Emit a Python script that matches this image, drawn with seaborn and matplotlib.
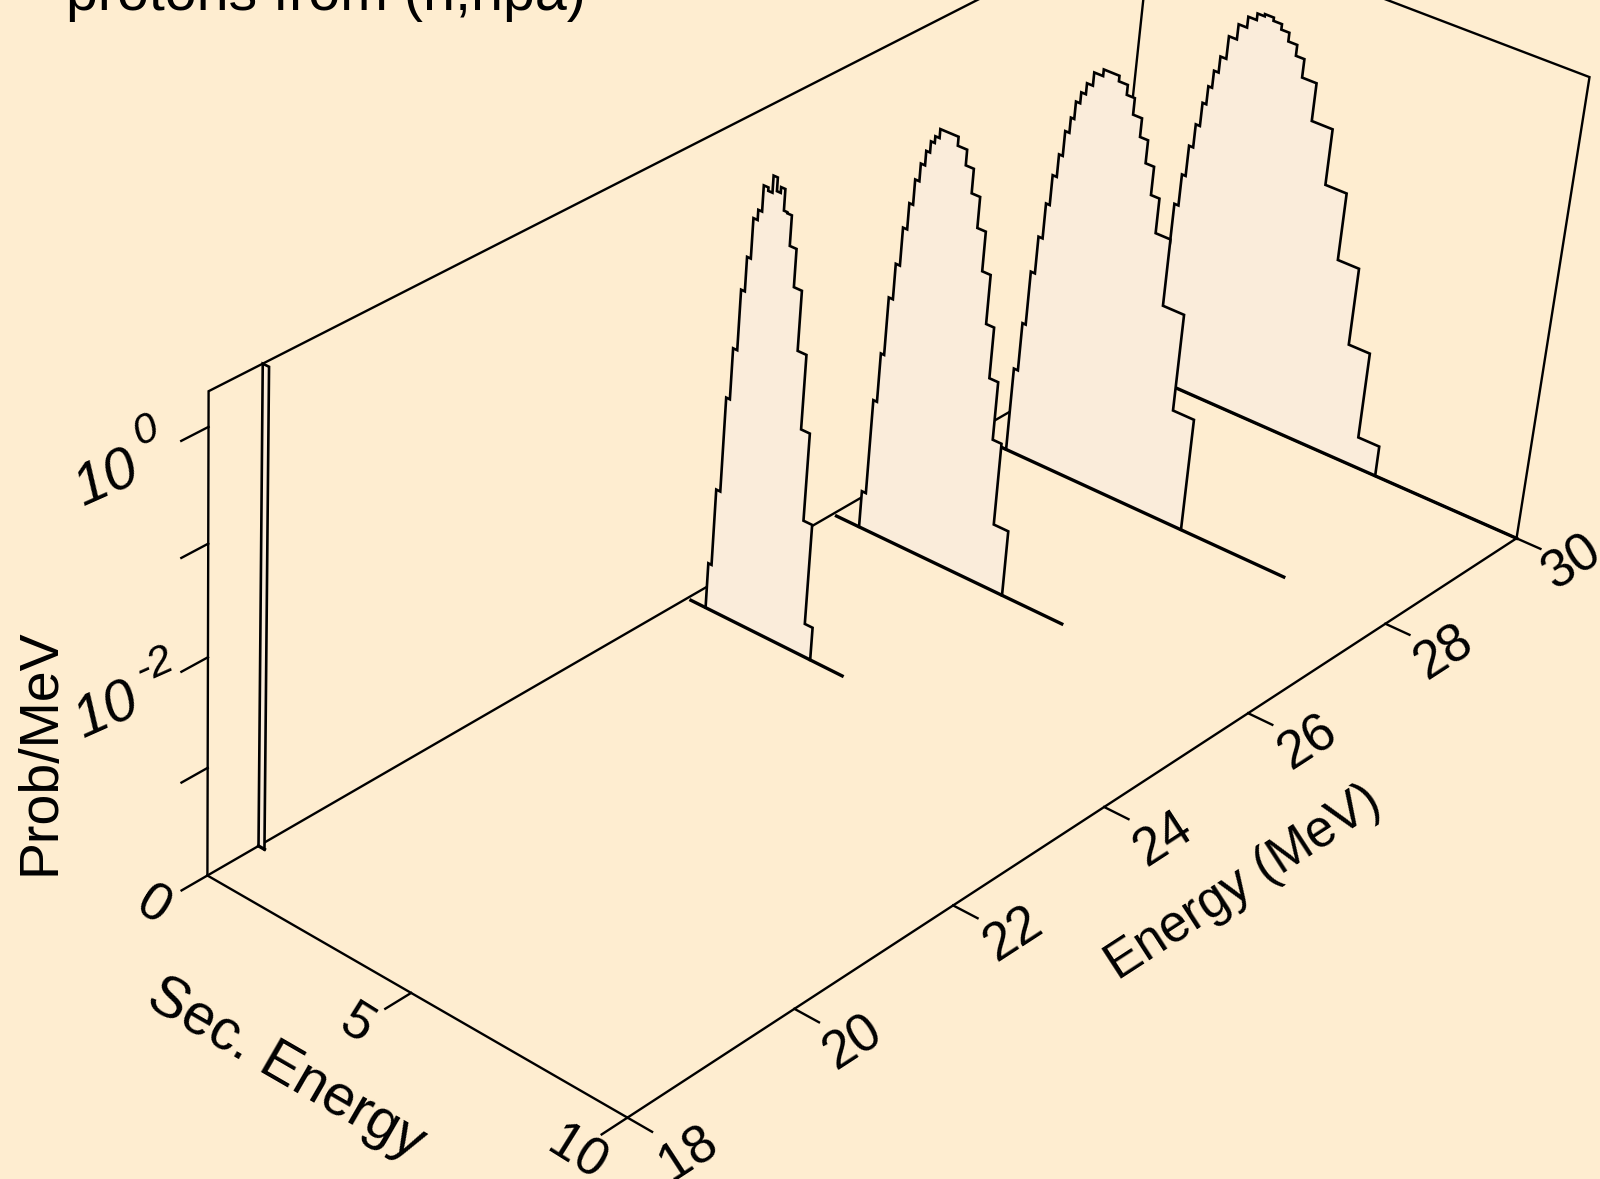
import numpy as np
import pandas as pd
import matplotlib
matplotlib.use("Agg")
import matplotlib.pyplot as plt
import seaborn as sns

# secondary energy bin edges (MeV) and log10(prob/MeV) per bin, one set per incident energy
edges_30 = [1.06, 1.16, 1.26, 1.36, 1.45, 1.55, 1.65, 1.74, 1.83, 1.94, 2.08, 2.27, 2.47, 2.67, 2.84, 3.05, 3.25, 3.44, 3.65, 3.85, 4.19, 4.68, 5.18, 5.68, 6.18, 6.68]
logp_30 = [-3.10, -2.65, -2.27, -1.97, -1.68, -1.46, -1.24, -1.07, -0.91, -0.76, -0.55, -0.41, -0.31, -0.25, -0.23, -0.26, -0.31, -0.39, -0.49, -0.66, -1.01, -1.53, -2.16, -2.89, -3.71]
edges_28 = [0.87, 0.97, 1.05, 1.15, 1.25, 1.34, 1.44, 1.53, 1.63, 1.71, 1.81, 1.92, 2.06, 2.27, 2.64, 2.85, 3.04, 3.25, 3.44, 3.64, 3.84, 4.19, 4.69, 5.19]
logp_28 = [-3.20, -2.74, -2.23, -1.88, -1.55, -1.27, -1.06, -0.83, -0.69, -0.53, -0.43, -0.33, -0.21, -0.15, -0.20, -0.29, -0.44, -0.61, -0.82, -1.08, -1.40, -2.02, -2.93]
edges_26 = [0.67, 0.77, 0.86, 0.94, 1.04, 1.14, 1.24, 1.33, 1.43, 1.53, 1.62, 1.71, 1.81, 2.24, 2.46, 2.65, 2.85, 3.05, 3.25, 3.44, 3.65, 3.86, 4.21]
logp_26 = [-3.65, -2.75, -2.29, -1.75, -1.42, -1.07, -0.83, -0.60, -0.44, -0.31, -0.21, -0.15, -0.07, -0.15, -0.29, -0.51, -0.79, -1.15, -1.60, -2.07, -2.61, -3.38]
edges_24 = [0.47, 0.55, 0.65, 0.74, 0.84, 0.93, 1.02, 1.12, 1.21, 1.32, 1.42, 1.52, 1.61, 1.71, 1.79, 1.90, 2.06, 2.25, 2.46, 2.67, 2.88, 3.07]
logp_24 = [-3.57, -2.85, -1.97, -1.50, -0.95, -0.64, -0.28, -0.19, 0.04, 0.01, 0.16, 0.04, 0.09, -0.10, -0.11, -0.38, -0.72, -1.26, -1.94, -2.75, -3.69]
edges_spike = [0.0, 0.15]
logp_spike = [0.3]

incident = [30, 28, 26, 24, 18.6]
floor_end = [10.0, 7.64, 5.65, 3.85, 0.15]
floor_start = [0.1, 0.1, 0.1, 0.1, 0.0]

sec_ticks = [0, 5, 10]
inc_ticks = [18, 20, 22, 24, 26, 28, 30]
prob_major = [0, -2]
prob_minor = [-1, -3]

SEC_MAX = 10
INC_MIN, INC_MAX = 18, 30
Z_MIN, Z_MAX = -4, 0.3

BG = "#FEEDD0"
FILL = "#FAECDA"

# camera fitted to the box: (sec, incident, log10 prob, 1) -> pixels
CAMERA = np.array([
    [52.7624827, 121.5474354, -3.3978561, -1916.0920395],
    [24.3509953, -53.4799047, -162.0478012, 1518.9897776],
    [-0.0080172, 0.0168503, -0.0181312, 1.0],
])


def project(sec, inc, z):
    sec, inc, z = np.broadcast_arrays(sec, inc, z)
    pts = np.stack([sec, inc, z, np.ones_like(sec)], dtype=float)
    u, v, w = CAMERA @ pts
    return u / w, v / w


def line3d(ax, sec, inc, z, lw=1.7):
    x, y = project(np.atleast_1d(sec), np.atleast_1d(inc), np.atleast_1d(z))
    df = pd.DataFrame({"x": x, "y": y})
    sns.lineplot(data=df, x="x", y="y", sort=False, estimator=None, color="black",
                 linewidth=lw, ax=ax, legend=False, solid_joinstyle="miter",
                 solid_capstyle="projecting")


def spectrum(ax, edges, logp, inc, start, end):
    sec = np.repeat(edges, 2)
    z = np.concatenate([[Z_MIN], np.repeat(logp, 2), [Z_MIN]])
    x, y = project(sec, inc, z)
    ax.fill(x, y, color=FILL, zorder=2, linewidth=0)
    line3d(ax, sec, inc, z, lw=1.9)
    line3d(ax, [start, end], inc, Z_MIN, lw=2.4)


def label(ax, x, y, s, size, rot, style="normal"):
    ax.text(x, y, s, fontsize=size, rotation=rot, style=style, ha="center", va="center",
            rotation_mode="anchor", color="black")


sns.set_theme(style="white")
plt.rcParams["font.family"] = ["Liberation Sans", "DejaVu Sans"]

fig = plt.figure(figsize=(16, 11.79), dpi=100, facecolor=BG)
ax = fig.add_axes([0, 0, 1, 1])
ax.set_xlim(0, 1600)
ax.set_ylim(1179, 0)
ax.axis("off")

# back wall and floor
line3d(ax, [0, 0, 0, SEC_MAX, SEC_MAX], [INC_MIN, INC_MIN, INC_MAX, INC_MAX, INC_MAX],
       [Z_MIN, Z_MAX, Z_MAX, Z_MAX, Z_MIN])
line3d(ax, [0, 0], [INC_MAX, INC_MAX], [Z_MAX, Z_MIN])
line3d(ax, [0, 0], [INC_MIN, INC_MAX], Z_MIN)
line3d(ax, [0, SEC_MAX], INC_MIN, Z_MIN)
line3d(ax, [SEC_MAX, SEC_MAX], [INC_MIN, INC_MAX], Z_MIN)
line3d(ax, [0, SEC_MAX], INC_MAX, Z_MIN)

# ticks
for s in sec_ticks:
    line3d(ax, [s, s], [INC_MIN, INC_MIN - 0.3], Z_MIN)
for e in inc_ticks:
    line3d(ax, [SEC_MAX, SEC_MAX + 0.55], [e, e], Z_MIN)
for z in prob_major + prob_minor:
    line3d(ax, [0, 0], [INC_MIN, INC_MIN - 0.3], z)

# spectra, back to front
spectra = [(edges_30, logp_30), (edges_28, logp_28), (edges_26, logp_26), (edges_24, logp_24),
           (edges_spike, logp_spike)]
for (edges, logp), inc, start, end in zip(spectra, incident, floor_start, floor_end):
    spectrum(ax, edges, logp, inc, start, end)

ax.text(66, 10, "protons from (n,npa)", fontsize=41.3, ha="left", va="baseline", color="black")

# axis text follows the box, so it is rotated by hand
label(ax, 286, 1069, "Sec. Energy", 41, -30)
label(ax, 1243, 883, "Energy (MeV)", 37, 33)
label(ax, 41, 752, "Prob/MeV", 40, 90)

sec_label_pos = [(153, 906), (357, 1024), (577, 1154)]
for s, (x, y) in zip(sec_ticks, sec_label_pos):
    label(ax, x, y, str(s), 38, -32)
inc_label_pos = [(689, 1154), (853, 1043), (1013, 934), (1163, 839), (1308, 743), (1444, 653), (1572, 563)]
for e, (x, y) in zip(inc_ticks, inc_label_pos):
    label(ax, x, y, str(e), 38, 33)

label(ax, 107, 480, "10", 42, 24, "italic")
label(ax, 146, 431, "0", 31, 24, "italic")
label(ax, 107, 712, "10", 42, 24, "italic")
label(ax, 155, 665, "-2", 31, 24, "italic")

fig.savefig("out.png", dpi=100, facecolor=BG)
